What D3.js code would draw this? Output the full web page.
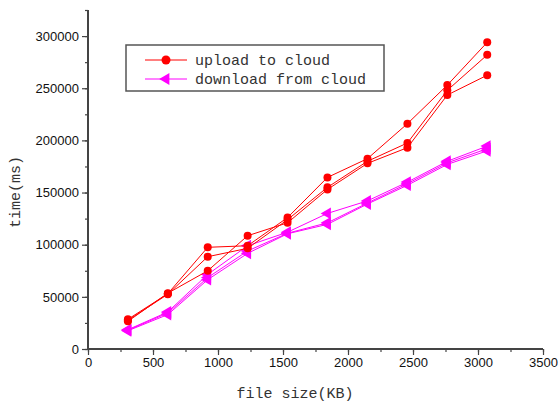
<!DOCTYPE html>
<html>
<head>
<meta charset="utf-8">
<script src="https://cdn.jsdelivr.net/npm/d3@7"></script>
<style>
  body { margin: 0; background: #fff; }
  .mono { font-family: "Liberation Mono", "Courier New", "Nimbus Mono PS", monospace; }
</style>
</head>
<body>
<svg id="chart"></svg>
<script>
// file sizes (KB)
const sizes = [307, 614, 921, 1228, 1535, 1842, 2150, 2457, 2764, 3071];

// upload to cloud, three runs (ms)
const upload1 = [28500, 53000, 97500, 99000, 126000, 164500, 182500, 216000, 253000, 294000];
const upload2 = [27500, 52500, 88500, 96500, 124000, 155000, 180000, 197500, 248000, 282000];
const upload3 = [26500, 53500, 75000, 108600, 121000, 153000, 178000, 193000, 243500, 262500];

// download from cloud, three runs (ms)
const download1 = [18500, 35500, 71500, 99000, 112000, 130000, 142000, 160000, 180000, 194500];
const download2 = [18000, 34500, 68500, 94000, 111000, 121000, 140000, 158500, 178500, 192000];
const download3 = [17500, 33000, 66500, 91700, 110500, 119500, 139000, 157000, 177000, 190000];

const xTicks = [0, 500, 1000, 1500, 2000, 2500, 3000, 3500];
const yTicks = [0, 50000, 100000, 150000, 200000, 250000, 300000];

const width = 558, height = 403;
const svg = d3.select("#chart").attr("width", width).attr("height", height);

const x = d3.scaleLinear().domain([0, 3500]).range([88, 543]);
const y = d3.scaleLinear().domain([0, 325000]).range([349, 10]);

const axisColor = "#444";

// ==============================
// AXES
// ==============================
const xMinor = svg.append("g").attr("transform", `translate(0,${y(0)})`)
  .call(d3.axisBottom(x).tickValues(d3.range(0, 3501, 250)).tickSize(3).tickFormat(""));
xMinor.select(".domain").remove();
const xMajor = svg.append("g").attr("transform", `translate(0,${y(0)})`)
  .call(d3.axisBottom(x).tickValues(xTicks).tickSize(6).tickPadding(3).tickFormat(d3.format("d")));
xMajor.select(".domain").remove();

const yMinor = svg.append("g").attr("transform", `translate(${x(0)},0)`)
  .call(d3.axisLeft(y).tickValues(d3.range(0, 325001, 25000)).tickSize(3).tickFormat(""));
yMinor.select(".domain").remove();
const yMajor = svg.append("g").attr("transform", `translate(${x(0)},0)`)
  .call(d3.axisLeft(y).tickValues(yTicks).tickSize(6).tickPadding(3).tickFormat(d3.format("d")));
yMajor.select(".domain").remove();

// axis lines drawn from the scales
svg.append("line")
  .attr("x1", x(0)).attr("x2", x(3500)).attr("y1", y(0)).attr("y2", y(0))
  .attr("stroke", axisColor).attr("stroke-width", 2);
svg.append("line")
  .attr("x1", x(0)).attr("x2", x(0)).attr("y1", y(0)).attr("y2", y(325000))
  .attr("stroke", axisColor).attr("stroke-width", 2);

svg.selectAll(".tick line").attr("stroke", axisColor).attr("stroke-width", 1.2);
svg.selectAll(".tick text")
  .attr("font-family", "Liberation Sans, Arial, sans-serif")
  .attr("font-size", "13px")
  .attr("fill", "#111");

// axis titles
svg.append("text")
  .attr("class", "mono")
  .attr("x", 295).attr("y", 398)
  .attr("text-anchor", "middle")
  .attr("font-size", "15px")
  .attr("fill", "#333")
  .text("file size(KB)");

svg.append("text")
  .attr("class", "mono")
  .attr("transform", "translate(20,192) rotate(-90)")
  .attr("text-anchor", "middle")
  .attr("font-size", "15px")
  .attr("fill", "#333")
  .text("time(ms)");

// ==============================
// SERIES
// ==============================
const line = d3.line().x((d, i) => x(sizes[i])).y(d => y(d));
const tri = d3.symbol().type(d3.symbolTriangle).size(60);

const uploads = [upload1, upload2, upload3];
const downloads = [download1, download2, download3];

downloads.forEach(vals => {
  svg.append("path").datum(vals)
    .attr("d", line).attr("fill", "none")
    .attr("stroke", "#ff00ff").attr("stroke-width", 1);
});
downloads.forEach(vals => {
  svg.append("g").selectAll("path").data(vals).join("path")
    .attr("d", tri)
    .attr("transform", (d, i) => `translate(${x(sizes[i])},${y(d)}) rotate(-90)`)
    .attr("fill", "#ff00ff");
});

uploads.forEach(vals => {
  svg.append("path").datum(vals)
    .attr("d", line).attr("fill", "none")
    .attr("stroke", "#ff0000").attr("stroke-width", 1);
});
uploads.forEach(vals => {
  svg.append("g").selectAll("circle").data(vals).join("circle")
    .attr("cx", (d, i) => x(sizes[i]))
    .attr("cy", d => y(d))
    .attr("r", 4)
    .attr("fill", "#ff0000");
});

// ==============================
// LEGEND
// ==============================
const legend = svg.append("g").attr("transform", "translate(126,45)");
legend.append("rect")
  .attr("width", 258).attr("height", 46)
  .attr("fill", "#fff").attr("stroke", "#555").attr("stroke-width", 1.5);

const legendData = [
  { label: "upload to cloud", color: "#ff0000", shape: "circle" },
  { label: "download from cloud", color: "#ff00ff", shape: "tri" }
];

const items = legend.selectAll(".item").data(legendData).join("g")
  .attr("transform", (d, i) => `translate(0,${15 + i * 19})`);

items.append("line")
  .attr("x1", 19).attr("x2", 61)
  .attr("stroke", d => d.color).attr("stroke-width", 1);

items.each(function(d) {
  const g = d3.select(this);
  if (d.shape === "circle") {
    g.append("circle").attr("cx", 40).attr("r", 4.5).attr("fill", d.color);
  } else {
    g.append("path").attr("d", tri).attr("transform", "translate(40,0) rotate(-90)").attr("fill", d.color);
  }
});

items.append("text")
  .attr("class", "mono")
  .attr("x", 69).attr("y", 5)
  .attr("font-size", "15px")
  .attr("fill", "#333")
  .text(d => d.label);
</script>
</body>
</html>
